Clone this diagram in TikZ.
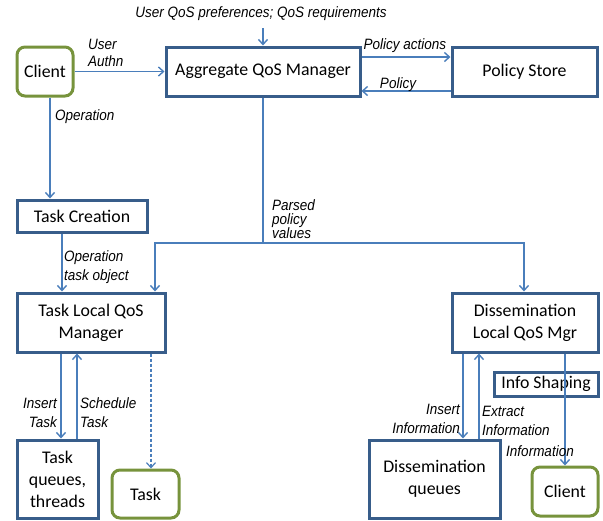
\documentclass[tikz,border=0pt]{standalone}
\usepackage{fontspec}
\setmainfont{Carlito}
\newfontfamily\narrowit[FakeStretch=0.9]{Liberation Sans}
\usetikzlibrary{arrows.meta}
\definecolor{boxblue}{HTML}{385D8A}
\definecolor{arrblue}{HTML}{4A7EBB}
\definecolor{olive}{HTML}{77933C}
\tikzset{
  box/.style={draw=boxblue, line width=3pt, fill=white, inner sep=2pt, align=center, font=\fontsize{17.8}{22}\selectfont},
  cbox/.style={draw=olive, line width=3pt, fill=white, rounded corners=8pt, inner sep=2pt, align=center, font=\fontsize{17.8}{22}\selectfont},
  arr/.style={draw=arrblue, line width=1.4pt, -{Straight Barb[length=5pt,width=9pt]}},
  lbl/.style={font=\narrowit\itshape\fontsize{15}{14}\selectfont, inner sep=0pt},
}
\begin{document}
\begin{tikzpicture}[x=1pt,y=-1pt]
\useasboundingbox (0,0) rectangle (603,520);
\node[cbox, minimum width=56pt, minimum height=49pt] (client1) at (45,71.5) {Client};
\node[box, minimum width=194pt, minimum height=49pt] (aqm) at (263,71.5) {Aggregate QoS Manager};
\node[box, minimum width=145pt, minimum height=49pt] (ps) at (524.5,71.5) {Policy Store};
\node[box, minimum width=130pt, minimum height=32pt] (tc) at (82,216) {Task Creation};
\node[box, minimum width=148pt, minimum height=59pt] (tlqm) at (91,322.5) {Task Local QoS\\Manager};
\node[box, minimum width=146pt, minimum height=59pt] (dlqm) at (525,322.5) {Dissemination\\Local QoS Mgr};
\node[box, minimum width=81pt, minimum height=78pt] (tq) at (57.5,479) {Task\\queues,\\threads};
\node[cbox, minimum width=67pt, minimum height=48pt] (task) at (145.5,494) {Task};
\node[box, minimum width=131pt, minimum height=78pt] (dq) at (434.5,479) {Dissemination\\queues};
\node[box, minimum width=104pt, minimum height=24pt] (info) at (546,384) {Info Shaping};
\node[cbox, minimum width=66pt, minimum height=49pt] (client2) at (565,491.5) {Client};

\node[lbl] (req) at (261,14) {User QoS preferences; QoS requirements};
\coordinate (reqend) at (263,28);
\draw[arr] (reqend) -- (reqend |- aqm.north);

\draw[arr] (client1.east) -- (aqm.west);
\node[lbl, align=left, anchor=west] (authn) at (88,53) {User\\[3pt]Authn};
\draw[arr] ([yshift=14.5pt]aqm.east) -- ([yshift=14.5pt]ps.west);
\node[lbl] (pacts) at (405,46) {Policy actions};
\draw[arr] ([yshift=-19.5pt]ps.west) -- ([yshift=-19.5pt]aqm.east);
\node[lbl] (pol) at (398,85) {Policy};

\draw[arr] ([xshift=5pt]client1.south) -- ([xshift=5pt]client1.south |- tc.north);
\node[lbl, anchor=west] (op) at (55,117) {Operation};

\draw[arr] ([xshift=-20pt]tc.south) -- ([xshift=-20pt]tc.south |- tlqm.north);
\node[lbl, align=left, anchor=west] (oto) at (64,267) {Operation\\[5pt]task object};

\coordinate (j) at (263,243);
\draw[draw=arrblue, line width=1.4pt] (aqm.south) -- (j);
\draw[arr] (j) -| ([xshift=64pt]tlqm.north);
\draw[arr] (j) -| ([xshift=-1pt]dlqm.north);
\node[lbl, align=left, anchor=west] (parsed) at (272,219) {Parsed\\policy\\values};

\draw[arr] ([xshift=3.5pt]tq.north |- tlqm.south) -- ([xshift=3.5pt]tq.north);
\draw[arr] ([xshift=19.5pt]tq.north) -- ([xshift=19.5pt]tq.north |- tlqm.south);
\node[lbl, align=right, anchor=east] (ins) at (57,413) {Insert\\[5pt]Task};
\node[lbl, align=left, anchor=west] (sch) at (80,413) {Schedule\\[5pt]Task};
\draw[arr, dash pattern=on 3pt off 2pt, line width=1.2pt] ([xshift=5.5pt]task.north |- tlqm.south) -- ([xshift=5.5pt]task.north);

\draw[arr] ([xshift=28.5pt]dq.north |- dlqm.south) -- ([xshift=28.5pt]dq.north);
\draw[arr] ([xshift=44.5pt]dq.north) -- ([xshift=44.5pt]dq.north |- dlqm.south);
\node[lbl, align=right, anchor=east] (insi) at (460,419) {Insert\\[5pt]Information};
\node[lbl, align=left, anchor=west] (exti) at (482,421) {Extract\\[5pt]Information};
\draw[arr] (dlqm.south -| client2.north) -- (client2.north);
\node[lbl] (infol) at (540,451) {Information};
\end{tikzpicture}
\end{document}
